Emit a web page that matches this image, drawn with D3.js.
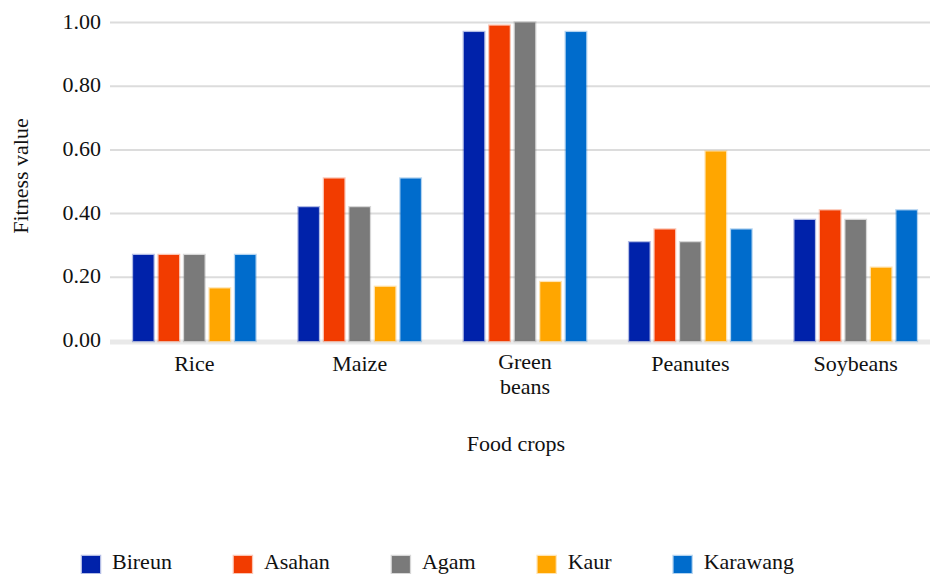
<!DOCTYPE html>
<html>
<head>
<meta charset="utf-8">
<script src="https://cdn.jsdelivr.net/npm/d3@7/dist/d3.min.js"></script>
<style>
  html, body { margin: 0; padding: 0; background: #fff; }
  svg { display: block; }
</style>
</head>
<body>
<svg id="chart" width="930" height="574" font-family="'Liberation Serif', 'Times New Roman', Tinos, serif"></svg>
<script>
const categories = ["Rice", "Maize", "Green beans", "Peanutes", "Soybeans"];
const series = ["Bireun", "Asahan", "Agam", "Kaur", "Karawang"];
const bireun   = [0.27, 0.42, 0.97, 0.31, 0.38];
const asahan   = [0.27, 0.51, 0.99, 0.35, 0.41];
const agam     = [0.27, 0.42, 1.00, 0.31, 0.38];
const kaur     = [0.165, 0.17, 0.185, 0.595, 0.23];
const karawang = [0.27, 0.51, 0.97, 0.35, 0.41];
const yTicks = [0, 0.2, 0.4, 0.6, 0.8, 1.0];
const colors = ["#0022aa", "#f23c00", "#7a7a7a", "#ffa600", "#006ccc"];

const values = [bireun, asahan, agam, kaur, karawang];
const FONT = "Liberation Serif";

const svg = d3.select("#chart");
const W = 930;
const gridLeft = 110;

const x0 = d3.scaleBand().domain(categories).range([110, 940])
  .paddingInner(0.26).paddingOuter(0.14);
const x1 = d3.scaleBand().domain(series).range([0, x0.bandwidth()]).paddingInner(0.2);
const y = d3.scaleLinear().domain([0, 1]).range([341, 22.5]);
const color = d3.scaleOrdinal().domain(series).range(colors);

// gridlines
svg.append("g").selectAll("line").data(yTicks.filter(t => t > 0)).join("line")
  .attr("x1", gridLeft).attr("x2", W)
  .attr("y1", d => y(d)).attr("y2", d => y(d))
  .attr("stroke", "#dcdcdc").attr("stroke-width", 2);
svg.append("line")
  .attr("x1", gridLeft).attr("x2", W)
  .attr("y1", y(0) + 1).attr("y2", y(0) + 1)
  .attr("stroke", "#e9e9e9").attr("stroke-width", 5);

// y tick labels
svg.append("g").selectAll("text").data(yTicks).join("text")
  .attr("font-family", FONT).attr("fill", "#111")
  .attr("x", 101).attr("y", d => y(d) + 6)
  .attr("text-anchor", "end").attr("font-size", 22)
  .text(d => d3.format(".2f")(d));

// bars
const groups = svg.append("g").selectAll("g").data(categories).join("g")
  .attr("transform", c => `translate(${x0(c)},0)`);
groups.selectAll("rect")
  .data((c, ci) => series.map((s, si) => ({ s, v: values[si][ci] })))
  .join("rect")
  .attr("x", d => x1(d.s))
  .attr("width", x1.bandwidth())
  .attr("y", d => y(d.v))
  .attr("height", d => y(0) - y(d.v))
  .attr("fill", d => color(d.s))
  .attr("stroke", d => color(d.s))
  .attr("stroke-opacity", 0.3)
  .attr("stroke-width", 2.5);

// x labels
const xl = svg.append("g").selectAll("text").data(categories).join("text")
  .attr("font-family", FONT).attr("fill", "#111")
  .attr("text-anchor", "middle").attr("font-size", 22)
  .attr("x", c => x0(c) + x0.bandwidth() / 2)
  .attr("y", c => c.includes(" ") ? 369 : 371);
xl.each(function (c) {
  const words = c.split(" ");
  const t = d3.select(this);
  words.forEach((w, i) => {
    t.append("tspan")
      .attr("x", x0(c) + x0.bandwidth() / 2)
      .attr("dy", i === 0 ? 0 : 25)
      .text(w);
  });
});

// axis titles
svg.append("text").attr("font-family", FONT).attr("fill", "#111")
  .attr("x", 516).attr("y", 451)
  .attr("text-anchor", "middle").attr("font-size", 22).text("Food crops");
svg.append("text").attr("font-family", FONT).attr("fill", "#111")
  .attr("transform", "translate(28,176) rotate(-90)")
  .attr("text-anchor", "middle").attr("font-size", 22).text("Fitness value");

// legend
const legend = svg.append("g");
let lx = 82;
series.forEach((s, i) => {
  const g = legend.append("g").attr("transform", `translate(${lx},0)`);
  g.append("rect").attr("x", 0).attr("y", 556).attr("width", 18).attr("height", 17)
    .attr("fill", color(s)).attr("stroke", color(s)).attr("stroke-opacity", 0.3).attr("stroke-width", 2.5);
  const t = g.append("text").attr("font-family", FONT).attr("fill", "#111")
    .attr("x", 30).attr("y", 569).attr("font-size", 22).text(s);
  const tw = t.node().getComputedTextLength();
  lx += 30 + tw + 62;
});
</script>
</body>
</html>
